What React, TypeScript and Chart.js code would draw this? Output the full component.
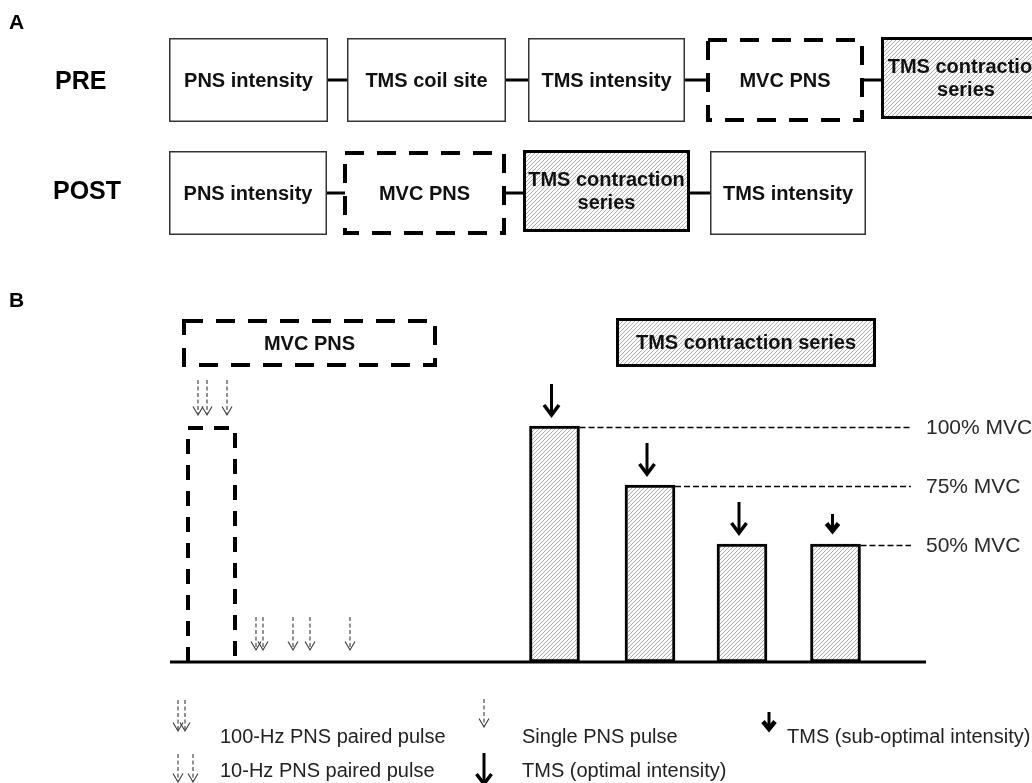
import { useEffect, useRef } from 'react';
import { Chart, registerables } from 'chart.js';

Chart.register(...registerables);

// ---------- data ----------
const preSteps = ['PNS intensity', 'TMS coil site', 'TMS intensity', 'MVC PNS', 'TMS contraction\nseries'];
const preKinds = ['plain', 'plain', 'plain', 'mvc', 'tms'];
const postSteps = ['PNS intensity', 'MVC PNS', 'TMS contraction\nseries', 'TMS intensity'];
const postKinds = ['plain', 'mvc', 'tms', 'plain'];

// contraction series (timeline units, % MVC)
const contractionTimes = [554.5, 650, 742, 835.5];
const contractionLevels = [100, 75, 50, 50];
const tmsKinds = ['optimal', 'optimal', 'optimal', 'sub'];
const levelValues = [100, 75, 50];
const levelLabels = ['100% MVC', '75% MVC', '50% MVC'];

// MVC with PNS
const mvcLevel = 100;
const mvcStart = 186;
const mvcEnd = 237;
const mvcPulseTimes = [198, 207, 227];
const mvcPulseKinds = ['100-Hz', '100-Hz', 'single'];
const restPulseTimes = [256, 263, 293, 310, 350];
const restPulseKinds = ['100-Hz', '100-Hz', '10-Hz', '10-Hz', 'single'];

const legendLabels = [
  '100-Hz PNS paired pulse',
  '10-Hz PNS paired pulse',
  'Single PNS pulse',
  'TMS (optimal intensity)',
  'TMS (sub-optimal intensity)',
];

const FONT = '"Liberation Sans", Arial, Helvetica, sans-serif';

function makeHatch(): CanvasPattern | string {
  const c = document.createElement('canvas');
  c.width = 4;
  c.height = 4;
  const g = c.getContext('2d');
  if (!g) return '#ddd';
  g.fillStyle = '#fbfbfb';
  g.fillRect(0, 0, 4, 4);
  g.strokeStyle = '#a6a6a6';
  g.lineWidth = 0.9;
  g.beginPath();
  g.moveTo(0, 4); g.lineTo(4, 0);
  g.moveTo(-1, 1); g.lineTo(1, -1);
  g.moveTo(3, 5); g.lineTo(5, 3);
  g.stroke();
  return g.createPattern(c, 'repeat') || '#ddd';
}

export default function App() {
  const ref = useRef<HTMLCanvasElement | null>(null);

  useEffect(() => {
    if (!ref.current) return;
    const hatch = makeHatch();

    const pnsArrow = (ctx: CanvasRenderingContext2D, x: number, tip: number, len: number) => {
      ctx.save();
      ctx.strokeStyle = '#3a3a3a';
      ctx.lineWidth = 1.1;
      ctx.setLineDash([4, 2.5]);
      ctx.beginPath();
      ctx.moveTo(x, tip - len);
      ctx.lineTo(x, tip - 1);
      ctx.stroke();
      ctx.setLineDash([]);
      ctx.beginPath();
      ctx.moveTo(x - 5, tip - 8.5);
      ctx.lineTo(x, tip);
      ctx.lineTo(x + 5, tip - 8.5);
      ctx.stroke();
      ctx.restore();
    };

    const tmsArrow = (ctx: CanvasRenderingContext2D, x: number, tip: number, kind: string) => {
      ctx.save();
      ctx.strokeStyle = '#000';
      ctx.lineCap = 'butt';
      ctx.lineJoin = 'miter';
      if (kind === 'optimal') {
        ctx.lineWidth = 3;
        ctx.beginPath();
        ctx.moveTo(x, tip - 33);
        ctx.lineTo(x, tip - 3);
        ctx.stroke();
        ctx.lineWidth = 3.5;
        ctx.beginPath();
        ctx.moveTo(x - 7.5, tip - 12);
        ctx.lineTo(x, tip - 2);
        ctx.lineTo(x + 7.5, tip - 12);
        ctx.stroke();
      } else {
        ctx.lineWidth = 3;
        ctx.beginPath();
        ctx.moveTo(x, tip - 20);
        ctx.lineTo(x, tip - 5);
        ctx.stroke();
        ctx.lineWidth = 4.5;
        ctx.beginPath();
        ctx.moveTo(x - 6, tip - 10.5);
        ctx.lineTo(x, tip - 3);
        ctx.lineTo(x + 6, tip - 10.5);
        ctx.stroke();
      }
      ctx.restore();
    };

    const box = (
      ctx: CanvasRenderingContext2D,
      x0: number, y0: number, x1: number, y1: number,
      kind: string, label: string
    ) => {
      ctx.save();
      const w = x1 - x0, h = y1 - y0;
      if (kind === 'plain') {
        ctx.fillStyle = '#fff';
        ctx.fillRect(x0, y0, w, h);
        ctx.strokeStyle = '#333';
        ctx.lineWidth = 1.5;
        ctx.strokeRect(x0 + 0.75, y0 + 0.75, w - 1.5, h - 1.5);
      } else if (kind === 'tms') {
        ctx.fillStyle = hatch as any;
        ctx.fillRect(x0, y0, w, h);
        ctx.strokeStyle = '#000';
        ctx.lineWidth = 3;
        ctx.strokeRect(x0 + 1.5, y0 + 1.5, w - 3, h - 3);
      } else {
        ctx.strokeStyle = '#000';
        ctx.lineWidth = 4;
        ctx.setLineDash([19, 13]);
        ctx.strokeRect(x0 + 2, y0 + 2, w - 4, h - 4);
        ctx.setLineDash([]);
      }
      ctx.fillStyle = '#111';
      ctx.font = `bold 20px ${FONT}`;
      ctx.textAlign = 'center';
      ctx.textBaseline = 'middle';
      const lines = label.split('\n');
      const cx = (x0 + x1) / 2, cy = (y0 + y1) / 2;
      const lh = 23;
      lines.forEach((ln, i) => {
        ctx.fillText(ln, cx, cy + (i - (lines.length - 1) / 2) * lh + 1);
      });
      ctx.restore();
    };

    const diagram = {
      id: 'diagram',
      afterDatasetsDraw(chart: any) {
        const ctx: CanvasRenderingContext2D = chart.ctx;
        const X = (v: number) => chart.scales.x.getPixelForValue(v);
        const Y = (v: number) => chart.scales.y.getPixelForValue(v);
        const P = (v: number) => chart.scales.page.getPixelForValue(v);

        ctx.save();
        // panel letters
        ctx.fillStyle = '#000';
        ctx.font = `bold 21px ${FONT}`;
        ctx.textAlign = 'left';
        ctx.textBaseline = 'alphabetic';
        ctx.fillText('A', X(9), P(29));
        ctx.fillText('B', X(9), P(307));

        // row labels
        ctx.font = `bold 25px ${FONT}`;
        ctx.textBaseline = 'middle';
        ctx.fillText('PRE', X(55), P(82));
        ctx.fillText('POST', X(53), P(192));

        // ---- Panel A flow ----
        const preBoxes = [[169, 328], [347, 506], [528, 685], [706, 864], [881, 1051]];
        const postBoxes = [[169, 327], [343, 506], [523, 690], [710, 866]];
        const rows = [
          { boxes: preBoxes, steps: preSteps, kinds: preKinds, top: 38, bottom: 122 },
          { boxes: postBoxes, steps: postSteps, kinds: postKinds, top: 151, bottom: 235 },
        ];
        rows.forEach((r) => {
          const mid = P((r.top + r.bottom) / 2);
          ctx.strokeStyle = '#000';
          ctx.lineWidth = 3;
          for (let i = 0; i < r.boxes.length - 1; i++) {
            ctx.beginPath();
            ctx.moveTo(X(r.boxes[i][1]), mid);
            ctx.lineTo(X(r.boxes[i + 1][0]) + 2, mid);
            ctx.stroke();
          }
          r.boxes.forEach((b, i) => {
            const k = r.kinds[i];
            const dy = k === 'tms' ? -1 : 0;
            box(ctx, X(b[0]), P(r.top + dy), X(b[1]), P(r.bottom + dy - (k === 'tms' ? 2 : 0)), k, r.steps[i]);
          });
        });

        // ---- Panel B ----
        box(ctx, X(182), P(319), X(437), P(367), 'mvc', 'MVC PNS');
        box(ctx, X(616), P(318), X(876), P(367), 'tms', 'TMS contraction series');

        // MVC dashed contraction
        ctx.save();
        ctx.strokeStyle = '#000';
        ctx.lineWidth = 4;
        ctx.setLineDash([15, 11]);
        ctx.beginPath();
        ctx.moveTo(X(mvcStart) + 2, Y(0));
        ctx.lineTo(X(mvcStart) + 2, Y(mvcLevel) + 2);
        ctx.lineTo(X(mvcEnd) - 2, Y(mvcLevel) + 2);
        ctx.lineTo(X(mvcEnd) - 2, Y(0));
        ctx.stroke();
        ctx.restore();

        // PNS pulses
        mvcPulseTimes.forEach((t) => pnsArrow(ctx, X(t), Y(mvcLevel) - 11, 35));
        restPulseTimes.forEach((t) => pnsArrow(ctx, X(t), Y(0) - 12, 33));
        void mvcPulseKinds; void restPulseKinds;

        // level lines + labels
        ctx.save();
        ctx.strokeStyle = '#000';
        ctx.lineWidth = 1.5;
        ctx.setLineDash([6, 3]);
        ctx.font = `21px ${FONT}`;
        ctx.fillStyle = '#2a2a2a';
        ctx.textAlign = 'left';
        ctx.textBaseline = 'middle';
        levelValues.forEach((lv, li) => {
          let idx = -1;
          contractionLevels.forEach((c, i) => { if (c === lv) idx = i; });
          const xs = idx >= 0 ? X(contractionTimes[idx]) + 25 : X(580);
          const y = Y(lv) + 1.5;
          ctx.beginPath();
          ctx.moveTo(xs, y);
          ctx.lineTo(X(911), y);
          ctx.stroke();
          ctx.fillText(levelLabels[li], X(926), y + 1);
        });
        ctx.restore();

        // TMS arrows
        contractionTimes.forEach((t, i) => {
          const gap = tmsKinds[i] === 'sub' ? 10 : 9;
          tmsArrow(ctx, X(t) - 3, Y(contractionLevels[i]) - gap, tmsKinds[i]);
        });

        // baseline
        ctx.strokeStyle = '#000';
        ctx.lineWidth = 3;
        ctx.beginPath();
        ctx.moveTo(X(170), Y(0));
        ctx.lineTo(X(926), Y(0));
        ctx.stroke();

        // ---- Legend ----
        const r1 = P(737), r2 = P(771);
        // 100-Hz icon
        pnsArrow(ctx, X(178), P(731), 31);
        pnsArrow(ctx, X(185), P(731), 31);
        // 10-Hz icon
        pnsArrow(ctx, X(178), P(782), 28);
        pnsArrow(ctx, X(193), P(782), 28);
        // single
        pnsArrow(ctx, X(484), P(727), 28);
        // TMS optimal
        tmsArrow(ctx, X(484), P(786), 'optimal');
        // TMS sub
        tmsArrow(ctx, X(769), P(732), 'sub');

        ctx.font = `20px ${FONT}`;
        ctx.fillStyle = '#222';
        ctx.textAlign = 'left';
        ctx.textBaseline = 'middle';
        ctx.fillText(legendLabels[0], X(220), r1);
        ctx.fillText(legendLabels[1], X(220), r2);
        ctx.fillText(legendLabels[2], X(522), r1);
        ctx.fillText(legendLabels[3], X(522), r2);
        ctx.fillText(legendLabels[4], X(787), r1);
        ctx.restore();
      },
    };

    const chart = new Chart(ref.current, {
      type: 'bar',
      data: {
        datasets: [
          {
            label: 'Contraction level (% MVC)',
            data: contractionTimes.map((t, i) => ({ x: t, y: contractionLevels[i] })),
            backgroundColor: hatch as any,
            borderColor: '#000',
            borderWidth: 3,
            borderSkipped: false,
            barThickness: 50,
          } as any,
        ],
      },
      options: {
        responsive: false,
        animation: false,
        events: [],
        layout: { padding: 0 },
        plugins: { legend: { display: false }, tooltip: { enabled: false } },
        scales: {
          x: { type: 'linear', min: 0, max: 1032, offset: false, display: false },
          y: { type: 'linear', min: -51.27, max: 280.51, display: false },
          page: { type: 'linear', axis: 'y', min: 0, max: 783, reverse: true, display: false },
        },
      } as any,
      plugins: [diagram],
    });
    return () => chart.destroy();
  }, []);

  return (
    <div style={{ position: 'fixed', left: 0, top: 0, width: 1032, height: 783, background: '#fff' }}>
      <canvas ref={ref} width={1032} height={783} style={{ display: 'block' }} />
    </div>
  );
}
